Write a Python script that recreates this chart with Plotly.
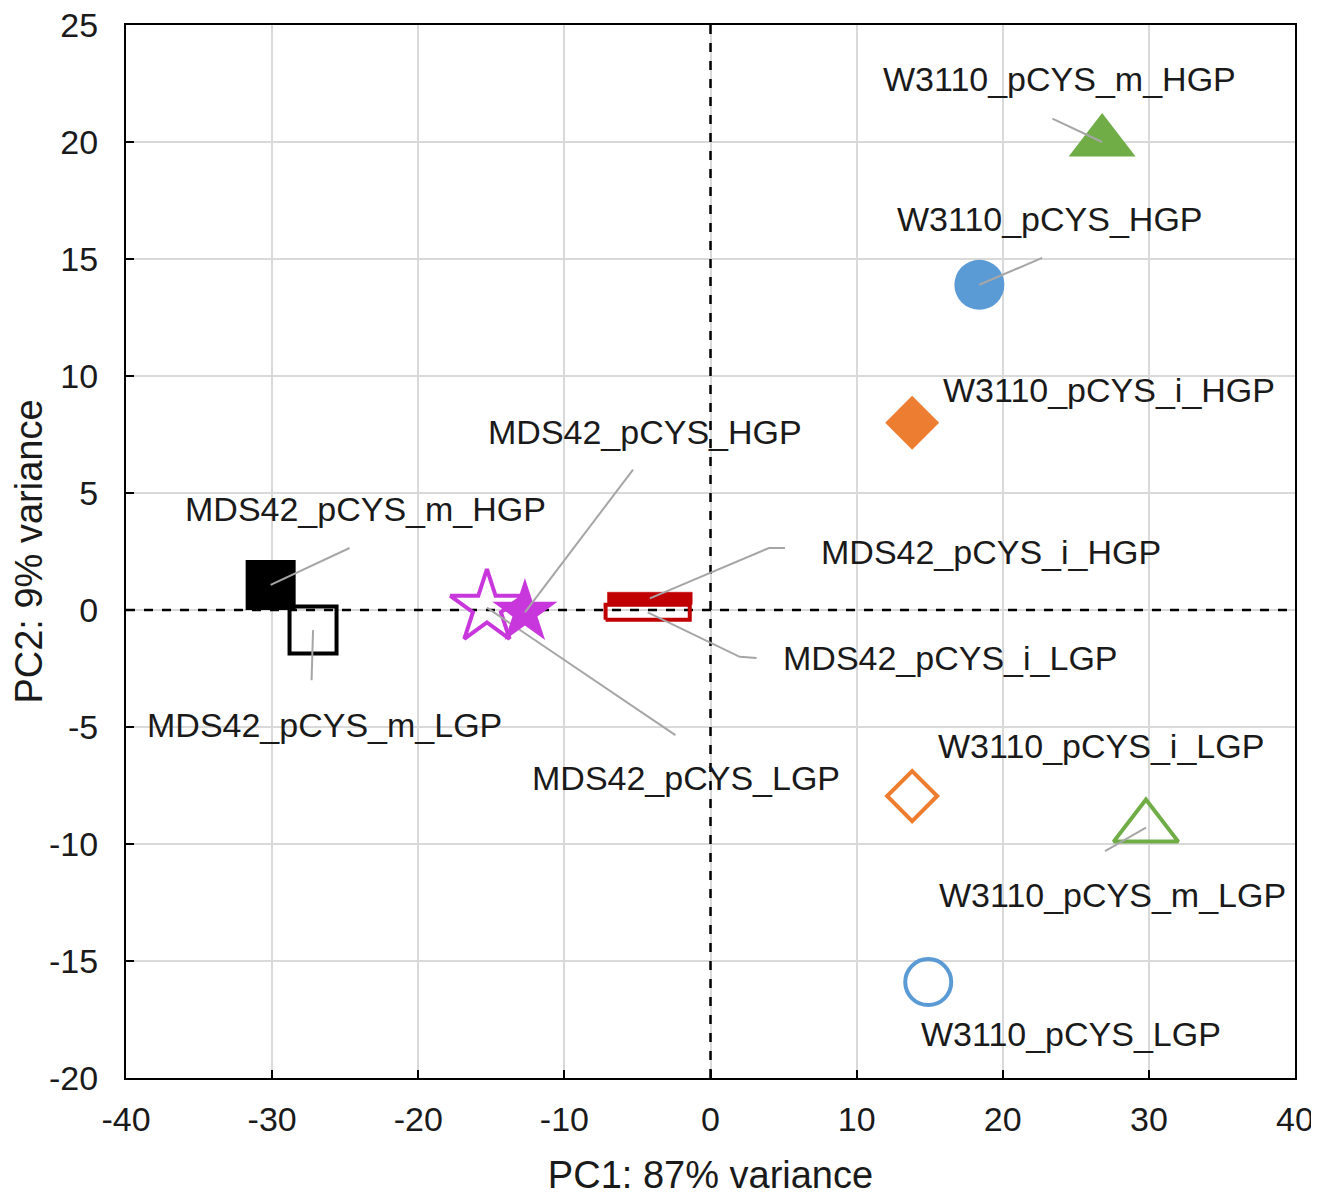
import plotly.graph_objects as go

# ---------------- data ----------------
names = ["W3110_pCYS_m_HGP", "W3110_pCYS_HGP", "W3110_pCYS_i_HGP",
         "MDS42_pCYS_HGP", "MDS42_pCYS_m_HGP", "MDS42_pCYS_i_HGP",
         "MDS42_pCYS_i_LGP", "MDS42_pCYS_m_LGP", "MDS42_pCYS_LGP",
         "W3110_pCYS_i_LGP", "W3110_pCYS_m_LGP", "W3110_pCYS_LGP"]
pc1 = [26.8, 18.4, 13.8, -12.7, -30.1, -4.15, -4.3, -27.2, -15.3, 13.8, 29.8, 14.9]
pc2 = [20.0, 13.9, 8.0, -0.1, 1.07, 0.5, -0.1, -0.86, 0.1, -7.95, -9.3, -15.9]

x_ticks = [-40, -30, -20, -10, 0, 10, 20, 30, 40]
y_ticks = [-20, -15, -10, -5, 0, 5, 10, 15, 20, 25]

# ---------------- styles / layout positions ----------------
GREEN, BLUE, ORANGE = "#70AD47", "#5B9BD5", "#ED7D31"
MAG, BLACK, RED = "#C837DB", "#000000", "#C00000"

style = {
    "W3110_pCYS_m_HGP": dict(symbol="triangle-up", color=GREEN, size=58, open=False),
    "W3110_pCYS_HGP": dict(symbol="circle", color=BLUE, size=50, open=False),
    "W3110_pCYS_i_HGP": dict(symbol="diamond", color=ORANGE, size=41.5, open=False),
    "MDS42_pCYS_HGP": dict(symbol="star", color=MAG, size=49, open=False),
    "MDS42_pCYS_m_HGP": dict(symbol="square", color=BLACK, size=50, open=False),
    "MDS42_pCYS_i_HGP": dict(symbol="rect", color=RED, open=False, hw=2.9, hh=0.26),
    "MDS42_pCYS_i_LGP": dict(symbol="rect", color=RED, open=True, hw=2.88, hh=0.32),
    "MDS42_pCYS_m_LGP": dict(symbol="square-open", color=BLACK, size=47, open=True),
    "MDS42_pCYS_LGP": dict(symbol="star-open", color=MAG, size=55, open=True),
    "W3110_pCYS_i_LGP": dict(symbol="diamond-open", color=ORANGE, size=38.5, open=True),
    "W3110_pCYS_m_LGP": dict(symbol="triangle-up-open", color=GREEN, size=56, open=True),
    "W3110_pCYS_LGP": dict(symbol="circle-open", color=BLUE, size=46, open=True),
}

# label text centres (data coordinates)
label_pos = {
    "W3110_pCYS_m_HGP": (23.9, 22.7),
    "W3110_pCYS_HGP": (23.2, 16.7),
    "W3110_pCYS_i_HGP": (27.3, 9.4),
    "MDS42_pCYS_HGP": (-4.5, 7.6),
    "MDS42_pCYS_m_HGP": (-23.6, 4.3),
    "MDS42_pCYS_i_HGP": (19.2, 2.5),
    "MDS42_pCYS_i_LGP": (16.4, -2.05),
    "MDS42_pCYS_m_LGP": (-26.4, -4.9),
    "MDS42_pCYS_LGP": (-1.7, -7.2),
    "W3110_pCYS_i_LGP": (26.7, -5.8),
    "W3110_pCYS_m_LGP": (27.5, -12.2),
    "W3110_pCYS_LGP": (24.7, -18.1),
}
# leader-line vertices after the point itself
leader = {
    "W3110_pCYS_m_HGP": [(23.4, 21.0)],
    "W3110_pCYS_HGP": [(22.7, 15.05)],
    "MDS42_pCYS_HGP": [(-5.3, 6.0)],
    "MDS42_pCYS_m_HGP": [(-24.7, 2.65)],
    "MDS42_pCYS_i_HGP": [(4.0, 2.65), (5.1, 2.65)],
    "MDS42_pCYS_i_LGP": [(2.0, -2.0), (3.15, -2.05)],
    "MDS42_pCYS_m_LGP": [(-27.3, -3.0)],
    "MDS42_pCYS_LGP": [(-2.4, -5.35)],
    "W3110_pCYS_m_LGP": [(27.0, -10.3)],
}
leader_under = {"MDS42_pCYS_LGP"}  # drawn beneath the filled star

FONT = "Arial, Liberation Sans, sans-serif"
TXT = "#1a1a1a"

fig = go.Figure()

# dashed zero lines (span the axis ranges)
fig.add_trace(go.Scatter(x=[x_ticks[0], x_ticks[-1]], y=[0, 0], mode="lines", hoverinfo="skip",
                         line=dict(color="black", width=2.5, dash="dash"), showlegend=False))
fig.add_trace(go.Scatter(x=[0, 0], y=[y_ticks[0], y_ticks[-1]], mode="lines", hoverinfo="skip",
                         line=dict(color="black", width=2.5, dash="dash"), showlegend=False))


def add_leader(n, i):
    pts = leader.get(n)
    if not pts:
        return
    xs = [pc1[i]] + [p[0] for p in pts]
    ys = [pc2[i]] + [p[1] for p in pts]
    fig.add_trace(go.Scatter(x=xs, y=ys, mode="lines", hoverinfo="skip",
                             line=dict(color="#a6a6a6", width=2), showlegend=False))


draw_order = ["MDS42_pCYS_i_LGP", "MDS42_pCYS_i_HGP", "MDS42_pCYS_m_LGP", "MDS42_pCYS_m_HGP",
              "MDS42_pCYS_LGP", "MDS42_pCYS_HGP", "W3110_pCYS_i_LGP", "W3110_pCYS_i_HGP",
              "W3110_pCYS_m_LGP", "W3110_pCYS_m_HGP", "W3110_pCYS_LGP", "W3110_pCYS_HGP"]

for n in draw_order:
    i = names.index(n)
    s = style[n]
    if n == "MDS42_pCYS_HGP":
        for m in leader_under:
            add_leader(m, names.index(m))
    if s["symbol"] == "rect":
        cx, cy, hw, hh = pc1[i], pc2[i], s["hw"], s["hh"]
        xs = [cx - hw, cx + hw, cx + hw, cx - hw, cx - hw]
        ys = [cy - hh, cy - hh, cy + hh, cy + hh, cy - hh]
        if s["open"]:
            fig.add_trace(go.Scatter(x=xs, y=ys, mode="lines", name=n, showlegend=False,
                                     line=dict(color=s["color"], width=4)))
        else:
            fig.add_trace(go.Scatter(x=xs, y=ys, mode="lines", name=n, showlegend=False,
                                     fill="toself", fillcolor=s["color"],
                                     line=dict(color=s["color"], width=0.5)))
        continue
    if s["open"]:
        marker = dict(symbol=s["symbol"], size=s["size"], color=s["color"],
                      line=dict(color=s["color"], width=4))
    else:
        marker = dict(symbol=s["symbol"], size=s["size"], color=s["color"],
                      line=dict(width=0))
    fig.add_trace(go.Scatter(x=[pc1[i]], y=[pc2[i]], mode="markers", name=n,
                             marker=marker, showlegend=False))

for n in names:
    if n in leader_under:
        continue
    add_leader(n, names.index(n))

annotations = []
for n in names:
    lx, ly = label_pos[n]
    annotations.append(dict(x=lx, y=ly, xref="x", yref="y", text=n, showarrow=False,
                            font=dict(family=FONT, size=34, color=TXT),
                            xanchor="center", yanchor="middle"))

axis_common = dict(showgrid=True, gridcolor="#d9d9d9", gridwidth=2, zeroline=False,
                   showline=True, linecolor="black", linewidth=2, mirror=True,
                   ticks="inside", ticklen=8, tickwidth=2, tickcolor="black",
                   automargin=False, ticklabeloverflow="allow",
                   tickfont=dict(family=FONT, size=34, color=TXT))

fig.update_layout(
    width=1319, height=1195,
    margin=dict(l=118, r=32, t=17, b=125),
    plot_bgcolor="white", paper_bgcolor="white",
    annotations=annotations,
    xaxis=dict(range=[-40, 40], tickvals=x_ticks, ticktext=[str(v) for v in x_ticks],
               ticklabelstandoff=10,
               title=dict(text="PC1: 87% variance", standoff=25,
                          font=dict(family=FONT, size=38, color=TXT)),
               **axis_common),
    yaxis=dict(range=[-20, 25], tickvals=y_ticks, ticktext=[str(v) for v in y_ticks],
               ticklabelstandoff=19,
               title=dict(text="PC2: 9% variance", standoff=0,
                          font=dict(family=FONT, size=38, color=TXT)),
               **axis_common),
)

fig.write_html("out.html")
